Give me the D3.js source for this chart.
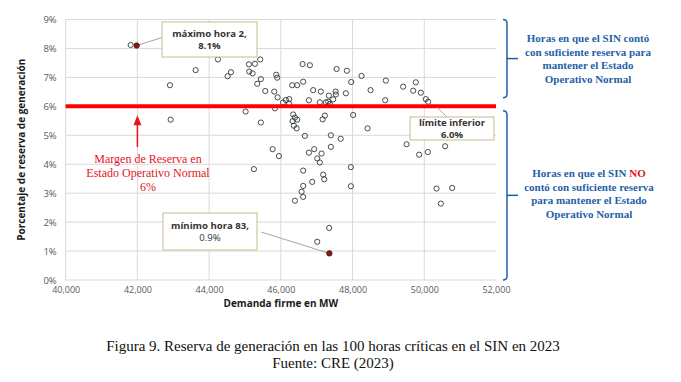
<!DOCTYPE html>
<html>
<head>
<meta charset="utf-8">
<script src="https://cdn.jsdelivr.net/npm/d3@7"></script>
<style>
  html, body { margin: 0; padding: 0; background: #ffffff; }
  svg { display: block; }
</style>
</head>
<body>
<svg id="chart" width="681" height="382"></svg>
<script>
// ---------------- DATA ----------------
const demandMW = [
  41812, 42907, 42927, 43624, 44245, 44515, 44608, 45110, 45277, 45425,
  45119, 45212, 45443, 45341, 45871, 45899, 45565, 45816, 45909, 46060,
  45834, 45017, 45443, 46233, 46233, 46140, 46606, 46810, 47554, 47841,
  48250, 47962, 46317, 46456, 46623, 46902, 47116, 47339, 47526, 47534,
  47813, 47460, 47320, 47088, 47256, 47367, 46782, 48502, 48928, 48910,
  49410, 49765, 49690, 49904, 50043, 50108, 46344, 46391, 46327, 46456,
  46363, 46439, 47228, 47164, 48017, 48418, 45770, 45946, 46670, 47395,
  47670, 47395, 46930, 46782, 47136, 47014, 47088, 45249, 46623, 47953,
  47181, 47209, 46874, 47953, 46623, 46578, 46623, 46392, 47348, 47014,
  49506, 49857, 50099, 50581, 50341, 50777, 50462
];
const reservePct = [
  8.12, 6.73, 5.54, 7.25, 7.62, 7.04, 7.18, 7.45, 7.47, 7.62,
  7.20, 7.14, 6.94, 6.78, 7.09, 6.99, 6.53, 6.51, 6.31, 6.13,
  5.93, 5.82, 5.44, 6.25, 6.09, 6.22, 7.46, 7.42, 7.29, 7.23,
  7.05, 6.84, 6.73, 6.73, 6.85, 6.56, 6.51, 6.37, 6.51, 6.41,
  6.45, 6.24, 6.16, 6.14, 6.14, 6.08, 6.21, 6.56, 6.89, 6.21,
  6.68, 6.83, 6.54, 6.47, 6.25, 6.16, 5.72, 5.61, 5.49, 5.54,
  5.33, 5.24, 5.68, 5.55, 5.70, 5.24, 4.52, 4.28, 4.98, 5.00,
  4.88, 4.60, 4.52, 4.40, 4.37, 4.20, 4.06, 3.83, 3.78, 3.90,
  3.64, 3.48, 3.39, 3.24, 3.25, 3.05, 2.87, 2.74, 1.80, 1.32,
  4.69, 4.33, 4.42, 4.62, 3.16, 3.18, 2.64
];
const highlightLabels = ["máximo hora 2,", "mínimo hora 83,"];
const highlightValueLabels = ["8.1%", "0.9%"];
const highlightMW = [41980, 47353];
const highlightPct = [8.1, 0.92];
const limitPct = 6.0;
const limitLabels = ["límite inferior", "6.0%"];
const xTicks = [40000, 42000, 44000, 46000, 48000, 50000, 52000];
const yTicks = [0, 1, 2, 3, 4, 5, 6, 7, 8, 9];
const xTitle = "Demanda firme en MW";
const yTitle = "Porcentaje de reserva de generación";
const marginLabels = ["Margen de Reserva en", "Estado Operativo Normal", "6%"];
const upperNote = ["Horas en que el SIN contó", "con suficiente reserva para", "mantener el Estado", "Operativo Normal"];
const lowerNote = ["Horas en que el SIN NO", "contó con suficiente reserva", "para mantener el Estado", "Operativo Normal"];
const captionLines = ["Figura 9. Reserva de generación en las 100 horas críticas en el SIN en 2023", "Fuente: CRE (2023)"];

// ---------------- CHART ----------------
const svg = d3.select("#chart");
const x = d3.scaleLinear().domain([40000, 52000]).range([65.7, 496]);
const y = d3.scaleLinear().domain([0, 9]).range([280, 19.5]);
const sans = "'Open Sans', 'DejaVu Sans', sans-serif";
const serif = "'Liberation Serif', 'DejaVu Serif', serif";

// gridlines
const grid = svg.append("g");
grid.selectAll("line.h").data(yTicks).join("line")
  .attr("x1", x(40000)).attr("x2", x(52000))
  .attr("y1", d => y(d)).attr("y2", d => y(d))
  .attr("stroke", "#d9d9d9").attr("stroke-width", 1);
grid.selectAll("line.v").data(xTicks.slice(0, -1)).join("line")
  .attr("x1", d => x(d)).attr("x2", d => x(d))
  .attr("y1", y(0)).attr("y2", y(9))
  .attr("stroke", "#d9d9d9").attr("stroke-width", 1);

// axes (labels only, via d3 axes)
const fmtX = d3.format(",");
const xAxis = svg.append("g").attr("transform", `translate(0,${y(0)})`)
  .call(d3.axisBottom(x).tickValues(xTicks).tickFormat(fmtX).tickSize(0).tickPadding(7));
xAxis.select(".domain").remove();
xAxis.selectAll("text").attr("font-family", sans).attr("font-size", 9).attr("fill", "#595959");

const yAxis = svg.append("g").attr("transform", `translate(${x(40000)},0)`)
  .call(d3.axisLeft(y).tickValues(yTicks).tickFormat(d => d + "%").tickSize(0).tickPadding(9));
yAxis.select(".domain").remove();
yAxis.selectAll("text").attr("font-family", sans).attr("font-size", 9.5).attr("fill", "#595959");

// axis titles
svg.append("text").attr("x", (x(40000) + x(52000)) / 2).attr("y", 307)
  .attr("text-anchor", "middle").attr("font-family", sans).attr("font-weight", "bold")
  .attr("font-size", 10).attr("fill", "#1a1a1a").text(xTitle);
svg.append("text").attr("transform", `translate(25,${(y(0) + y(9)) / 2}) rotate(-90)`)
  .attr("text-anchor", "middle").attr("font-family", sans).attr("font-weight", "bold")
  .attr("font-size", 10).attr("fill", "#1a1a1a").text(yTitle);

// scatter points
svg.append("g").selectAll("circle").data(demandMW.map((d, i) => [d, reservePct[i]])).join("circle")
  .attr("cx", d => x(d[0])).attr("cy", d => y(d[1])).attr("r", 2.6)
  .attr("fill", "none").attr("stroke", "#2f3b37").attr("stroke-width", 0.9);

// limit line
svg.append("line").attr("x1", x(40000)).attr("x2", x(52000))
  .attr("y1", y(limitPct)).attr("y2", y(limitPct))
  .attr("stroke", "#ff0000").attr("stroke-width", 4);

// red arrow + label
const ax = x(42000);
svg.append("line").attr("x1", ax).attr("x2", ax).attr("y1", 147).attr("y2", 124)
  .attr("stroke", "#e5141b").attr("stroke-width", 1.5);
svg.append("path").attr("d", `M${ax},${y(limitPct) + 9} L${ax - 4},${y(limitPct) + 19} L${ax + 4},${y(limitPct) + 19} Z`)
  .attr("fill", "#e5141b");
svg.append("g").selectAll("text").data(marginLabels).join("text")
  .attr("x", 148).attr("y", (d, i) => 163 + i * 14.2)
  .attr("text-anchor", "middle").attr("font-family", serif).attr("font-size", 12)
  .attr("fill", "#e5141b").text(d => d);

// annotation boxes
function annot(bx, by, bw, bh, lines, weights, fs) {
  svg.append("rect").attr("x", bx).attr("y", by).attr("width", bw).attr("height", bh)
    .attr("fill", "#ffffff").attr("stroke", "#c8b98e").attr("stroke-width", 1);
  lines.forEach((t, i) => {
    svg.append("text").attr("x", bx + bw / 2).attr("y", by + bh / 2 - 2.5 + i * 12)
      .attr("text-anchor", "middle").attr("font-family", sans).attr("font-size", fs)
      .attr("font-weight", weights[i]).attr("fill", "#333333").text(t);
  });
}
// leader lines
svg.append("line").attr("x1", x(highlightMW[0])).attr("y1", y(highlightPct[0]))
  .attr("x2", 162).attr("y2", 37.5).attr("stroke", "#a6a6a6").attr("stroke-width", 1);
svg.append("line").attr("x1", x(highlightMW[1])).attr("y1", y(highlightPct[1]))
  .attr("x2", 261).attr("y2", 232).attr("stroke", "#a6a6a6").attr("stroke-width", 1);
svg.append("line").attr("x1", 447).attr("y1", 117).attr("x2", 437).attr("y2", y(limitPct) + 1)
  .attr("stroke", "#a6a6a6").attr("stroke-width", 1);

annot(162, 22, 95, 35, [highlightLabels[0], highlightValueLabels[0]], ["bold", "bold"], 9.6);
annot(163, 213, 94, 37, [highlightLabels[1], highlightValueLabels[1]], ["bold", "normal"], 9.6);
annot(410, 117, 84, 23, limitLabels, ["bold", "bold"], 9.5);

// highlighted points
svg.append("g").selectAll("circle").data(highlightMW.map((d, i) => [d, highlightPct[i]])).join("circle")
  .attr("cx", d => x(d[0])).attr("cy", d => y(d[1])).attr("r", 2.8)
  .attr("fill", "#7a1c1c").attr("stroke", "#5a1010").attr("stroke-width", 0.6);

// braces
const blue = "#1f5fa8";
function brace(xb, y0, y1) {
  const ym = (y0 + y1) / 2;
  const p = d3.path();
  p.moveTo(xb - 4, y0);
  p.quadraticCurveTo(xb, y0, xb, y0 + 4);
  p.lineTo(xb, y1 - 4);
  p.quadraticCurveTo(xb, y1, xb - 4, y1);
  svg.append("path").attr("d", p.toString()).attr("fill", "none").attr("stroke", blue).attr("stroke-width", 1.5);
  svg.append("line").attr("x1", xb).attr("x2", xb + 11).attr("y1", ym).attr("y2", ym)
    .attr("stroke", blue).attr("stroke-width", 1.5);
}
brace(507, y(9), y(6.3));
brace(507, y(5.85), y(0));

// notes
svg.append("g").selectAll("text").data(upperNote).join("text")
  .attr("x", 588).attr("y", (d, i) => 42 + i * 13.5)
  .attr("text-anchor", "middle").attr("font-family", serif).attr("font-size", 11)
  .attr("font-weight", "bold").attr("fill", blue).text(d => d);
const lower = svg.append("g");
lowerNote.forEach((t, i) => {
  const tx = lower.append("text").attr("x", 589).attr("y", 177 + i * 13.7)
    .attr("text-anchor", "middle").attr("font-family", serif).attr("font-size", 11)
    .attr("font-weight", "bold").attr("fill", blue);
  if (t.endsWith(" NO")) {
    tx.append("tspan").text(t.slice(0, -2));
    tx.append("tspan").attr("fill", "#e5141b").text("NO");
  } else {
    tx.text(t);
  }
});

// caption
svg.append("g").selectAll("text").data(captionLines).join("text")
  .attr("x", 333).attr("y", (d, i) => 351 + i * 16.5)
  .attr("text-anchor", "middle").attr("font-family", serif).attr("font-size", 15)
  .attr("fill", "#111111").text(d => d);
</script>
</body>
</html>
